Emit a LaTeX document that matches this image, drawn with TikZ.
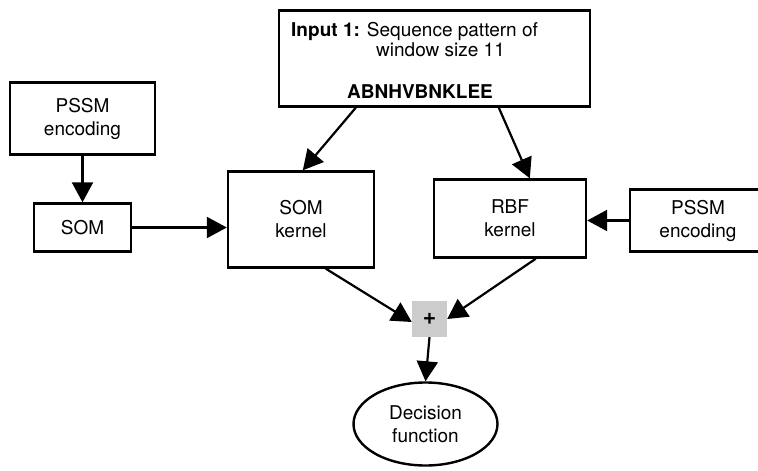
\documentclass[tikz,border=0pt]{standalone}
\usepackage{fontspec}
\setmainfont{TeX Gyre Heros}
\usetikzlibrary{arrows.meta,shapes.geometric}

\tikzset{
  box/.style={draw, line width=2.4pt, rectangle, inner sep=0pt, align=center,
              font=\fontsize{19}{23}\selectfont},
  txt/.style={inner sep=0pt, anchor=base west, font=\fontsize{19}{23}\selectfont},
  link/.style={line width=2.2pt, -{Triangle[length=20pt,width=21pt]}},
}

\begin{document}
\begin{tikzpicture}[x=1pt,y=-1pt]
  \clip (0,0) rectangle (758,471);
  \fill[white] (0,0) rectangle (758,471);

  % input window
  \node[box, minimum width=311pt, minimum height=96pt] (input) at (434.5,58.5) {};
  \node[txt] (in1) at (291,36) {\textbf{Input 1:} Sequence pattern of};
  \node[txt] (in2) at (376,56) {window size 11};
  \node[txt] (in3) at (347,98) {\textbf{ABNHVBNKLEE}};

  % left branch
  \node[box, minimum width=145pt, minimum height=72pt] (pssmL) at (82.5,118.5) {PSSM\\encoding};
  \node[box, minimum width=97pt, minimum height=48pt] (som) at (82.5,227.5) {SOM};
  \node[box, minimum width=146pt, minimum height=96pt] (somk) at (301,219.5) {SOM\\kernel};

  % right branch
  \node[box, minimum width=152pt, minimum height=78pt] (rbf) at (510,218.5) {RBF\\kernel};
  \node[box, minimum width=136pt, minimum height=62pt] (pssmR) at (698,220.5) {PSSM\\encoding};

  % combination and output
  \node[fill=black!20, minimum width=35pt, minimum height=36pt, inner sep=0pt,
        font=\fontsize{23}{23}\selectfont\bfseries] (plus) at (429.5,319) {+};
  \node[draw, line width=2.4pt, ellipse, minimum width=144pt, minimum height=83pt,
        inner sep=0pt, align=center, font=\fontsize{19}{23}\selectfont] (dec) at (425.5,424) {Decision\\function};

  % connectors
  \draw[link] (pssmL.south) -- (som.north);
  \draw[link] (som.east) -- (som.east -| somk.west);
  \draw[link] ([xshift=78pt]input.south west) -- ([xshift=76pt]somk.north west);
  \draw[link] ([xshift=221pt]input.south west) -- ([xshift=97pt]rbf.north west);
  \draw[link] (pssmR.west) -- (pssmR.west -| rbf.east);
  \draw[link] ([xshift=99pt]somk.south west) -- ([yshift=-3pt]plus.west);
  \draw[link] ([xshift=103pt]rbf.south west) -- (plus.east);
  \draw[link] (plus.south) -- (dec.north);
\end{tikzpicture}
\end{document}
